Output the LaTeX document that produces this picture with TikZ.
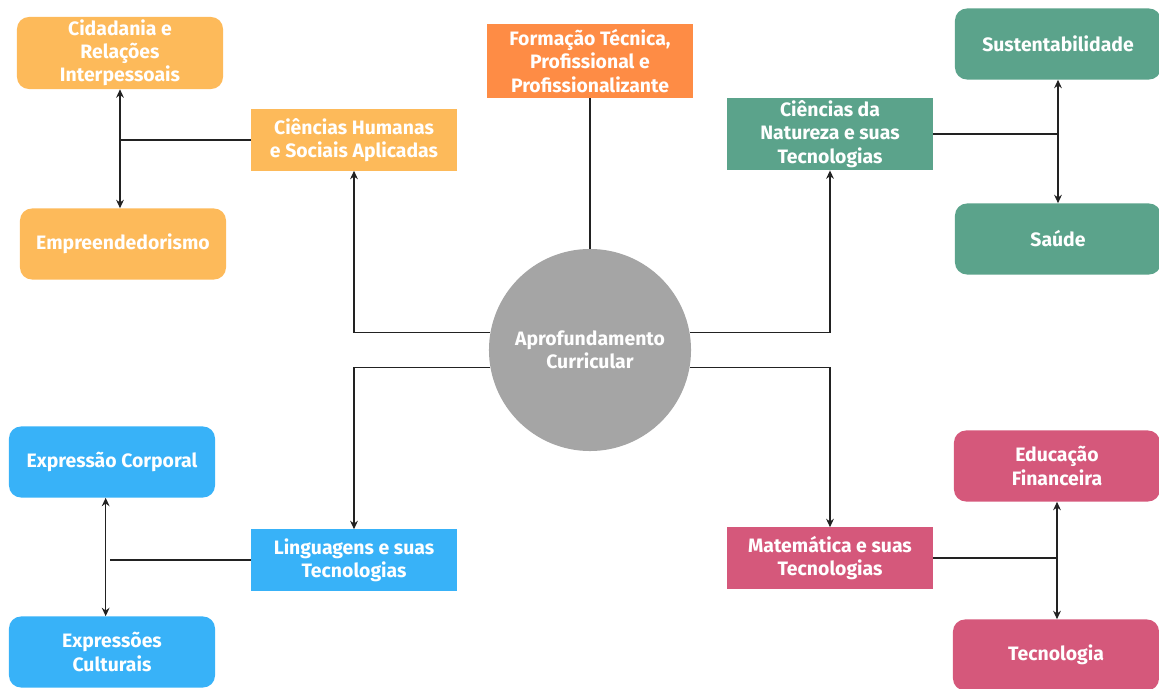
\documentclass[tikz,border=0pt]{standalone}
\usepackage{fontspec}
\setmainfont{Fira Sans}
\usetikzlibrary{arrows.meta}
\definecolor{laranja}{HTML}{FDBA5A}
\definecolor{laranjaforte}{HTML}{FE8C45}
\definecolor{verde}{HTML}{5BA38B}
\definecolor{azul}{HTML}{38B2F8}
\definecolor{rosa}{HTML}{D5587B}
\definecolor{cinza}{HTML}{A5A5A5}
\definecolor{linha}{HTML}{222222}
\begin{document}
\begin{tikzpicture}[x=0.025cm,y=-0.025cm,
		font=\fontsize{13.8}{16.5}\selectfont\bfseries,text=white,
		area/.style={rectangle,align=center,minimum width=5.15cm,minimum height=1.525cm,inner sep=2pt},
		sub/.style={area,rounded corners=0.3cm,minimum height=1.775cm},
		con/.style={draw=linha,line width=1pt},
		seta/.style={con,-{Stealth[length=6pt,width=5.5pt]}},
		dupla/.style={con,{Stealth[length=6pt,width=5.5pt]}-{Stealth[length=6pt,width=5.5pt]}}]
		\useasboundingbox (0,0) rectangle (1159,689);
		% centro
		\node (apro) [circle,fill=cinza,minimum size=5.05cm,align=center] at (590,350) {Aprofundamento\\Curricular};
		\node (form) [area,fill=laranjaforte,minimum height=1.85cm] at (590,61) {Formação Técnica,\\Profissional e\\Profissionalizante};
		% areas
		\node (hum) [area,fill=laranja] at (354,140) {Ciências Humanas\\e Sociais Aplicadas};
		\node (nat) [area,fill=verde,minimum height=1.7cm] at (830,134) {Ciências da\\Natureza e suas\\Tecnologias};
		\node (ling) [area,fill=azul] at (354,560) {Linguagens e suas\\Tecnologias};
		\node (mat) [area,fill=rosa] at (830,558) {Matemática e suas\\Tecnologias};
		% itinerarios
		\node (cid) [sub,fill=laranja] at (120,53) {Cidadania e\\Relações\\Interpessoais};
		\node (emp) [sub,fill=laranja] at (123,244) {Empreendedorismo};
		\node (sus) [sub,fill=verde] at (1058,44) {Sustentabilidade};
		\node (sau) [sub,fill=verde] at (1058,239) {Saúde};
		\node (expc) [sub,fill=azul] at (112,462) {Expressão Corporal};
		\node (expcu) [sub,fill=azul] at (112,652) {Expressões\\Culturais};
		\node (edu) [sub,fill=rosa] at (1057,466) {Educação\\Financeira};
		\node (tec) [sub,fill=rosa] at (1056,655) {Tecnologia};
		% ligacoes
		\draw[con] (form) -- (apro);
		\draw[seta] (apro.170) -| (hum.south);
		\draw[seta] (apro.190) -| (ling.north);
		\draw[seta] (apro.10) -| (nat.south);
		\draw[seta] (apro.350) -| (mat.north);
		\draw[con] (hum.west) -- (hum.west -| cid.south);
		\draw[dupla] (cid.south) -- (cid.south |- emp.north);
		\draw[con] (nat.east) -- (nat.east -| sus.south);
		\draw[dupla] (sus.south) -- (sau.north);
		\draw[con] (ling.west) -- ([xshift=-1.5pt]ling.west -| expc.south);
		\draw[dupla] ([xshift=-4.5pt]expc.south) -- ([xshift=-4.5pt]expc.south |- expcu.north);
		\draw[con] (mat.east) -- (mat.east -| edu.south);
		\draw[dupla] (edu.south) -- (edu.south |- tec.north);
	\end{tikzpicture}
\end{document}
